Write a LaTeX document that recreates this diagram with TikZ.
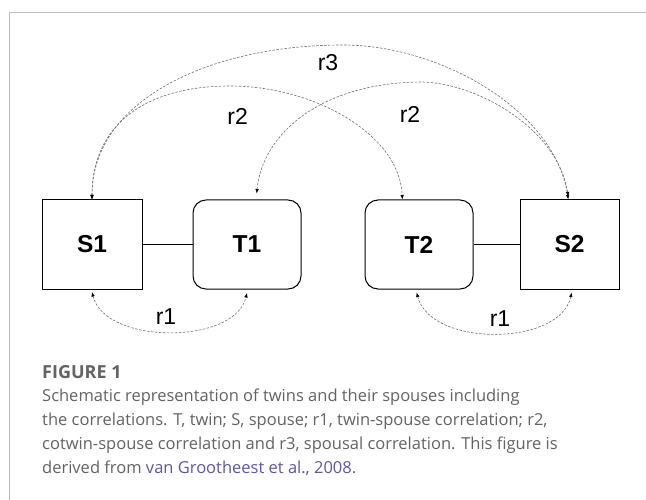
\documentclass[tikz,border=0pt]{standalone}
\usepackage{fontspec}
\setmainfont{Liberation Sans}
\newfontfamily\capfont{Open Sans}
\usetikzlibrary{arrows.meta}
\definecolor{framegray}{HTML}{BDBDBD}
\definecolor{capgray}{HTML}{636363}
\definecolor{linkblue}{HTML}{5B57A6}
\definecolor{curvegray}{HTML}{707070}
\begin{document}
\begin{tikzpicture}[x=1pt,y=-1pt,
  sqbox/.style={draw=black, line width=1pt, minimum width=100pt, minimum height=89pt, inner sep=0pt, font=\fontsize{24.5}{24.5}\selectfont\bfseries},
  rbox/.style={sqbox, rounded corners=13pt, minimum width=108pt},
  link/.style={draw=black, line width=0.8pt},
  corr/.style={draw=curvegray, line width=0.6pt, dash pattern=on 2.5pt off 1.5pt, {Latex[length=4.5pt,width=3.5pt,color=black]}-{Latex[length=4.5pt,width=3.5pt,color=black]}},
  rlab/.style={font=\fontsize{23}{23}\selectfont, inner sep=0pt},
  captext/.style={anchor=base west, inner sep=0pt, font=\capfont\fontsize{16.5}{20}\selectfont, text=capgray}]
\useasboundingbox (0,0) rectangle (646,500);
\fill[white] (0,0) rectangle (646,500);
\draw[framegray, line width=1pt] (9,500) -- (9,12.3) -- (646,12.3);
% boxes
\node[sqbox] (S1) at (92,244.5) {S1};
\node[rbox] (T1) at (247,244.5) {T1};
\node[rbox] (T2) at (419,244.5) {T2};
\node[sqbox, minimum width=99pt] (S2) at (569.5,244.5) {S2};
\draw[link] (S1.east) -- (T1.west);
\draw[link] (T2.east) -- (S2.west);
% correlations
\draw[corr] (S1.north) .. controls (92,100) and (210,45) .. (343,45) .. controls (440,45) and (555,110) .. ([xshift=-1.2pt]S2.north);
\draw[corr] (S1.north) .. controls (92,125) and (145,86) .. (230,86) .. controls (315,86) and (400,135) .. ([xshift=-16.7pt]T2.north);
\draw[corr] ([xshift=9.7pt,yshift=6pt]T1.north) .. controls (262,135) and (320,82) .. (423,82) .. controls (480,84) and (558,130) .. ([xshift=-1.2pt,yshift=3pt]S2.north);
\draw[corr] ([yshift=-2.5pt]S1.south) .. controls (105,345) and (235,345) .. ([yshift=-3.5pt]T1.south);
\draw[corr] ([xshift=-2.3pt,yshift=-3pt]T2.south) .. controls (430,347) and (560,347) .. ([xshift=2.2pt,yshift=-3pt]S2.south);
% labels
\node[rlab] (l3) at (328,62.7) {r3};
\node[rlab] (l2a) at (237.7,116) {r2};
\node[rlab] (l2b) at (410,114) {r2};
\node[rlab] (l1a) at (166,316.7) {r1};
\node[rlab] (l1b) at (500,319) {r1};
% caption
\node[captext, font=\capfont\bfseries\fontsize{18}{20}\selectfont] (fig) at (42,378.3) {FIGURE 1};
\node[captext] (cap1) at (42,401.7) {Schematic representation of twins and their spouses including};
\node[captext] (cap2) at (42,425.7) {the correlations. T, twin; S, spouse; r1, twin-spouse correlation; r2,};
\node[captext] (cap3) at (42,449) {cotwin-spouse correlation and r3, spousal correlation. This figure is};
\node[captext] (cap4) at (42,473.3) {derived from \textcolor{linkblue}{van Grootheest et al., 2008}.};
\end{tikzpicture}
\end{document}
